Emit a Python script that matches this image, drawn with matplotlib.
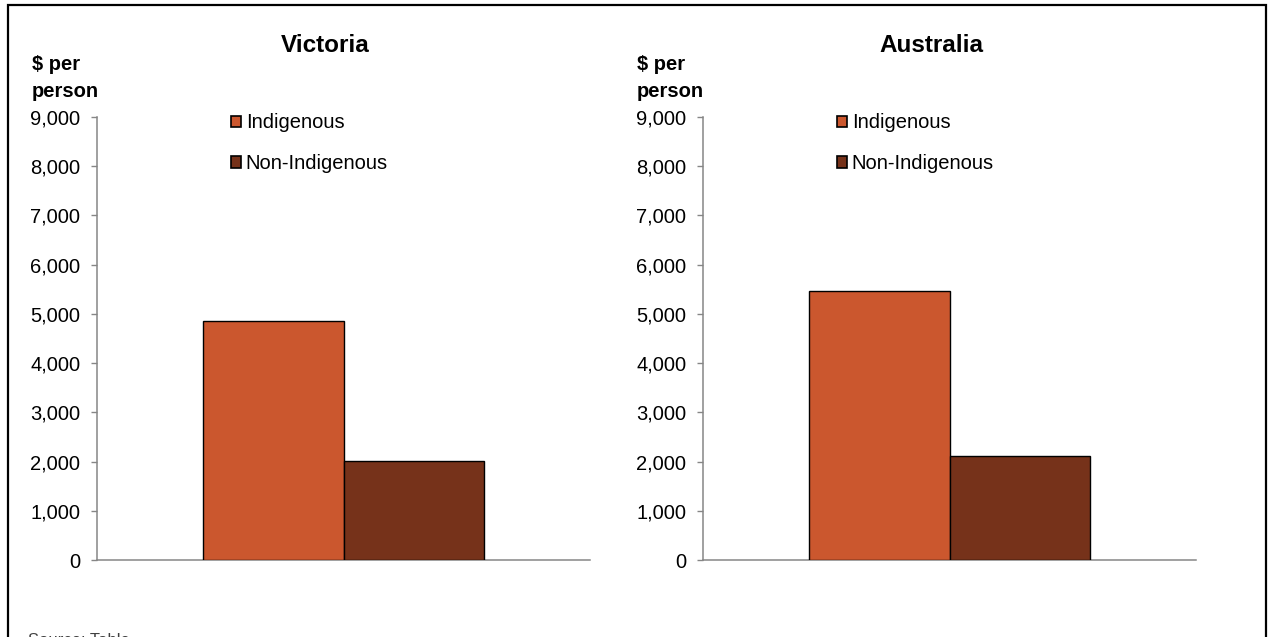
import numpy as np
import matplotlib
matplotlib.use("Agg")
import matplotlib.pyplot as plt
from matplotlib.patches import Rectangle
from matplotlib.ticker import FuncFormatter

plt.rcParams['font.family'] = ['Liberation Sans', 'DejaVu Sans']

# ---------------------------------------------------------------
# Data ($ per person)
# ---------------------------------------------------------------
regions = ['Victoria', 'Australia']
series = ['Indigenous', 'Non-Indigenous']
indigenous = [4860, 5465]
non_indigenous = [2020, 2120]
colours = ['#CB572E', '#76321A']
yticks = np.arange(0, 9001, 1000)

W, H = 1268, 637
fig = plt.figure(figsize=(W / 100, H / 100), dpi=100)

# outer chart border (bottom runs off the picture)
fig.patches.append(Rectangle((8 / W, -0.05), 1258 / W, (H - 5) / H + 0.05,
                             transform=fig.transFigure, fill=False,
                             edgecolor='black', lw=1.6))

grey = '#868686'
lefts = [97, 703]
for i, reg in enumerate(regions):
    x0 = lefts[i]
    ax = fig.add_axes([x0 / W, (H - 560) / H, 493 / W, 443 / H])
    vals = [indigenous[i], non_indigenous[i]]
    bw = 0.286
    for j, v in enumerate(vals):
        ax.bar(0.5 + (j - 0.5) * bw, v, width=bw, color=colours[j],
               edgecolor='black', lw=1.0, label=series[j], zorder=3)
    ax.set_xlim(0, 1)
    ax.set_ylim(0, 9000)
    ax.set_yticks(yticks)
    ax.yaxis.set_major_formatter(FuncFormatter(lambda v, p: f'{int(v):,}'))
    ax.set_xticks([])
    for s in ['top', 'right']:
        ax.spines[s].set_visible(False)
    for s in ['left', 'bottom']:
        ax.spines[s].set_color(grey)
        ax.spines[s].set_linewidth(1.1)
    ax.tick_params(axis='y', direction='out', length=4, width=1.0,
                   color=grey, labelsize=14.5, pad=8, labelcolor='black')

    leg = ax.legend(loc='upper left', bbox_to_anchor=(0.271, 1.008),
                    frameon=False, fontsize=14.5, handlelength=0.5,
                    handleheight=0.5, handletextpad=0.25, labelspacing=1.08,
                    borderaxespad=0, borderpad=0)
    for h in leg.legend_handles:
        h.set_edgecolor('black')
        h.set_linewidth(1.2)

    # panel title and y-axis unit label
    fig.text((325 + 606 * i) / W, (H - 46) / H, reg, ha='center',
             va='center', fontsize=17.5, fontweight='bold')
    fig.text((32 + 605 * i) / W, (H - 55) / H, '$ per\nperson', ha='left',
             va='top', fontsize=14.5, fontweight='bold', linespacing=1.55)

# source note, cut off by the bottom edge as in the original
fig.text(28 / W, (H - 633) / H, 'Source: Table', ha='left', va='top',
         fontsize=12, color='#404040')

fig.savefig('out.png', dpi=100)
